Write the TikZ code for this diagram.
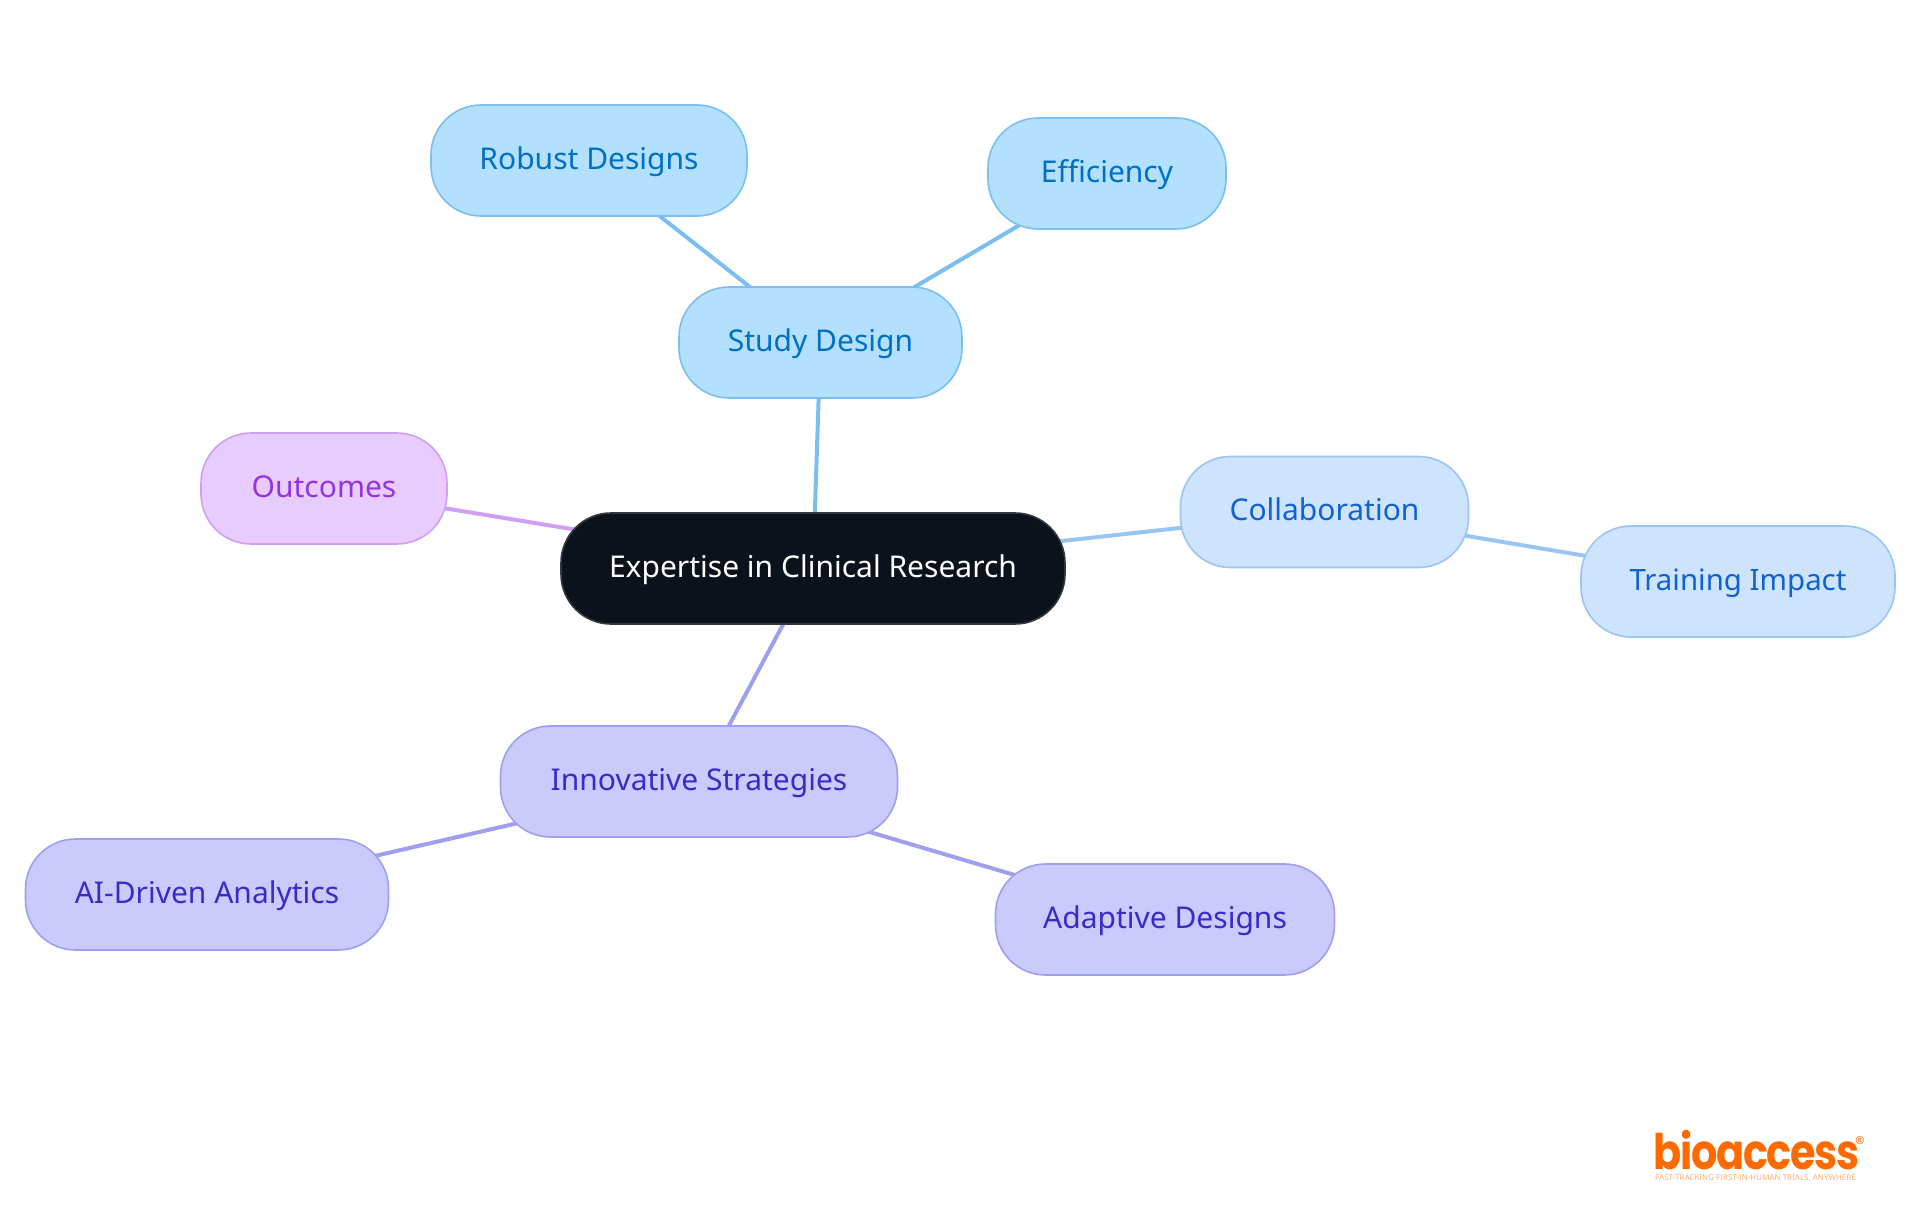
\documentclass[tikz,border=0pt]{standalone}
\usepackage{fontspec}
\setmainfont{Noto Sans}
\newfontfamily\logofont[LetterSpace=-3]{Poppins}
\usetikzlibrary{backgrounds}
\definecolor{bluefill}{HTML}{B3E0FF}
\definecolor{bluedraw}{HTML}{7ABEF2}
\definecolor{bluetext}{HTML}{0070C4}
\definecolor{skyfill}{HTML}{CEE4FD}
\definecolor{skydraw}{HTML}{9AC4F1}
\definecolor{skytext}{HTML}{0F62D0}
\definecolor{indfill}{HTML}{CACAFD}
\definecolor{inddraw}{HTML}{9F9FF0}
\definecolor{indtext}{HTML}{3A2BC8}
\definecolor{purfill}{HTML}{E8CCFE}
\definecolor{purdraw}{HTML}{CE9FF2}
\definecolor{purtext}{HTML}{9234E6}
\definecolor{rootfill}{HTML}{0B121B}
\definecolor{rootdraw}{HTML}{33383E}
\definecolor{logoorange}{HTML}{FF6A00}
\tikzset{
 pill/.style={rounded corners=50pt,inner sep=0pt,line width=1.6pt,minimum height=111pt,font=\fontsize{30}{34}\selectfont,text height=25.6pt,text depth=8pt},
 bluepill/.style={pill,fill=bluefill,draw=bluedraw,text=bluetext},
 skypill/.style={pill,fill=skyfill,draw=skydraw,text=skytext},
 indpill/.style={pill,fill=indfill,draw=inddraw,text=indtext},
 purpill/.style={pill,fill=purfill,draw=purdraw,text=purtext},
 rootpill/.style={pill,fill=rootfill,draw=rootdraw,text=white},
 edge/.style={line width=4pt}
}
\begin{document}
\begin{tikzpicture}[x=1pt,y=-1pt]
\useasboundingbox (0,0) rectangle (1920,1215);
\node[rootpill,minimum width=504pt] (root) at (813,568.5) {Expertise in Clinical Research};
\node[bluepill,minimum width=283pt] (study) at (820.5,342.5) {Study Design};
\node[bluepill,minimum width=316pt] (robust) at (589,160.5) {Robust Designs};
\node[bluepill,minimum width=238pt] (eff) at (1107,173.5) {Efficiency};
\node[purpill,minimum width=246pt] (out) at (324,488.5) {Outcomes};
\node[skypill,minimum width=288pt] (coll) at (1324.5,512) {Collaboration};
\node[skypill,minimum width=314pt,font=\fontsize{29.4}{34}\selectfont] (train) at (1738,581.5) {Training Impact};
\node[indpill,minimum width=397pt] (innov) at (699,781.5) {Innovative Strategies};
\node[indpill,minimum width=363pt] (ai) at (207,894.5) {AI-Driven Analytics};
\node[indpill,minimum width=339pt] (adapt) at (1165,919.5) {Adaptive Designs};
\begin{pgfonlayer}{background}
\draw[edge,bluedraw] (root.center) -- (study.center);
\draw[edge,bluedraw] (study.center) -- (robust.center);
\draw[edge,bluedraw] (study.center) -- (eff.center);
\draw[edge,purdraw] (root.center) -- (out.center);
\draw[edge,skydraw] (root.center) -- (coll.center);
\draw[edge,skydraw] (coll.center) -- (train.center);
\draw[edge,inddraw] (root.center) -- (innov.center);
\draw[edge,inddraw] (innov.center) -- (ai.center);
\draw[edge,inddraw] (innov.center) -- (adapt.center);
\end{pgfonlayer}
\node[anchor=base west,inner sep=0pt,text=logoorange,xscale=.845,font=\logofont\bfseries\fontsize{49}{50}\selectfont] (logo) at (1653,1169) {bioaccess};
\node[anchor=center,inner sep=0pt,text=logoorange,font=\fontsize{11}{11}\selectfont] (reg) at (1860,1141) {®};
\node[anchor=base west,inner sep=0pt,text=logoorange!55,font=\fontsize{8}{8}\selectfont] (tag) at (1655,1180) {FAST-TRACKING FIRST-IN-HUMAN TRIALS, ANYWHERE};
\end{tikzpicture}
\end{document}
